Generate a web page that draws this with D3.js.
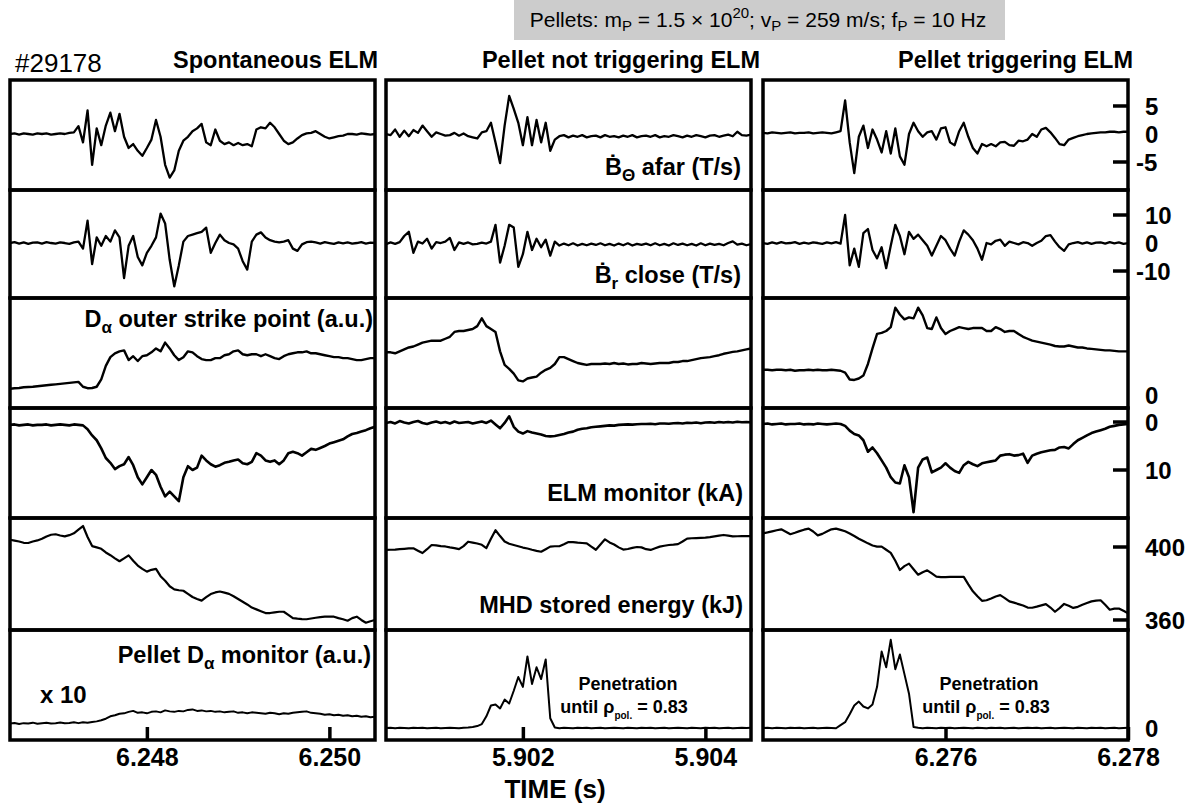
<!DOCTYPE html>
<html>
<head>
<meta charset="utf-8">
<script src="https://cdn.jsdelivr.net/npm/d3@7"></script>
<style>
  body { margin: 0; background: #fff; }
  text { font-family: "Liberation Sans", Arial, Helvetica, sans-serif; fill: #000; }
</style>
</head>
<body>
<div id="chart"></div>
<script>
// time axis (ms) : each column shows 4 ms, sampled every 0.05 ms
var colStart = [6246.5, 5900.5, 6274.0];
var colTicks = [[6248, 6250], [5902, 5904], [6276, 6278]];
var dt = 0.05;
var colTitles = ["Spontaneous ELM", "Pellet not triggering ELM", "Pellet triggering ELM"];
var shot = "#29178";

// right hand axis ticks for each row
var rowTickLabels = [[5, 0, -5], [10, 0, -10], [0], [0, 10], [400, 360], [0]];
var rowTickMarks = [[5, -5], [10, -10], [], [0, 10], [400, 360], []];
// value at bottom / top of each row
var rowDomains = [[-10, 9.64], [-19.64, 18.93], [-1.34, 10], [20, -2.92], [354.5, 415.9], [-1.22, 10]];

// ---- column 1 : spontaneous ELM ----
var c1_bth = [0, 0.1, -0.1, 0.1, 0, -0.1, 0.1, 0, 0.1, -0.1,
  0, 0.1, 0, 0.2, 0.3, 1.4, -1.5, 4.2, -5.5, 1.0,
  -2.0, 1.5, 3.8, 0.5, 3.6, -0.5, -2.5, -1.8, -3.0, -3.9,
  -2.5, -1.0, 2.5, -0.5, -5.5, -7.8, -6.5, -3.0, -1.2, -0.5,
  0.5, 1.0, 1.8, -1.5, -2.0, 0.8, -1.2, -1.8, -1.5, -2.0,
  -1.6, -2.0, -1.8, -2.2, 0.8, 1.2, 1.0, 2.0, 1.2, 0.0,
  -1.2, -1.8, -1.5, -0.8, -0.2, 0.1, 0.2, 0.5, 0.0, -0.5,
  -0.8, -0.6, -0.4, -0.3, 0.0, 0.0, -0.1, 0.1, 0, -0.1,
  0];
var c1_br = [0, 0.3, -0.2, 0.2, -0.3, 0.1, 0.2, -0.2, 0.3, 0,
  -0.2, 0.2, 0, -0.3, 0.2, 0.5, -2, 8.0, -7.5, 2.0,
  -1.0, 2.5, 0.5, 4.5, 2.0, -12.5, -1.0, 2.5, -5.0, -8.0,
  -3.5, -1.0, 2.0, 10.5, 7.0, -6.0, -15.5, -8.0, 0.5, 2.5,
  3.0, 3.5, 4.0, 5.5, -3.5, 0.0, 3.0, 1.0, 0.0, -0.5,
  -2.0, -6.5, -9.5, 0.5, 3.0, 3.8, 2.0, 1.0, 0.5, 0.2,
  0.5, 1.0, -2.0, -2.8, -0.5, 0.3, 0.5, 0.2, -0.2, 0.3,
  0, -0.3, 0.2, -0.1, 0.2, -0.2, 0, 0.3, -0.2, 0.1,
  0];
var c1_da = [0.65, 0.7, 0.72, 0.8, 0.82, 0.85, 0.9, 0.95, 1.0, 1.05,
  1.1, 1.15, 1.2, 1.25, 1.3, 1.35, 0.85, 0.7, 0.72, 0.85,
  1.6, 3.0, 3.9, 4.3, 4.5, 4.6, 3.6, 4.0, 3.5, 4.0,
  4.1, 4.4, 4.8, 4.5, 5.4, 4.8, 4.1, 3.6, 3.9, 4.5,
  4.4, 4.0, 3.7, 3.6, 3.6, 3.8, 3.8, 4.1, 4.2, 4.5,
  4.6, 4.2, 4.1, 4.2, 4.2, 4.0, 4.2, 4.0, 3.8, 3.7,
  4.0, 4.2, 4.3, 4.4, 4.4, 4.5, 4.3, 4.3, 4.2, 4.1,
  4.0, 3.9, 3.9, 3.8, 3.8, 3.7, 3.6, 3.6, 3.7, 3.8,
  3.8];
var c1_elm = [0.6, 0.5, 0.7, 0.6, 0.5, 0.7, 0.6, 0.6, 0.5, 0.7,
  0.6, 0.5, 0.6, 0.7, 0.5, 0.6, 0.7, 1.5, 2.8, 3.8,
  5.5, 7.5, 8.5, 9.8, 9.2, 8.8, 7.3, 9.0, 11.5, 13.0,
  11.5, 10.0, 11.0, 13.5, 15.5, 14.5, 15.5, 16.5, 11.5, 9.2,
  10.0, 9.5, 7.0, 8.0, 8.8, 9.3, 9.0, 8.5, 8.3, 8.0,
  7.8, 8.6, 8.8, 8.3, 6.5, 7.0, 8.0, 8.3, 8.0, 8.8,
  8.0, 6.5, 6.2, 6.5, 7.0, 6.3, 5.6, 5.8, 5.4, 5.0,
  4.5, 4.2, 3.9, 3.6, 3.0, 2.5, 2.3, 2.0, 1.7, 1.3,
  1.0];
var c1_wmhd = [404, 403.5, 403, 402.3, 402.2, 403, 403.6, 404.5, 405.8, 406.7,
  407, 406.3, 405.8, 406.5, 407.5, 409.5, 411.5, 405.5, 400.5, 399.8,
  399, 397, 395.5, 393.8, 392.2, 393.8, 395.4, 392.5, 389.8, 388,
  386.5, 387.5, 388, 384, 381.5, 378.5, 376.8, 376.3, 376, 374.3,
  372.6, 371.5, 370.6, 372.5, 374.2, 375.1, 375.6, 375, 374.3, 373,
  371.5, 370, 368.5, 366.8, 365.8, 364.8, 363.8, 363.8, 364.2, 364.5,
  364.5, 362.8, 361, 360.7, 360.5, 360.4, 360.8, 361.2, 361.6, 361.8,
  361.8, 361.8, 361, 360.4, 359.6, 361, 361.8, 360, 358.5, 359.3,
  360];
var c1_pel = [0.45, 0.52, 0.42, 0.5, 0.47, 0.55, 0.44, 0.5, 0.53, 0.46,
  0.5, 0.56, 0.48, 0.52, 0.58, 0.5, 0.6, 0.55, 0.62, 0.68,
  0.8, 0.95, 1.2, 1.3, 1.45, 1.5, 1.65, 1.75, 1.55, 1.6,
  1.5, 1.65, 1.7, 1.6, 1.8, 1.7, 1.65, 1.75, 1.7, 1.85,
  1.9, 1.75, 1.8, 1.7, 1.75, 1.65, 1.7, 1.6, 1.65, 1.7,
  1.55, 1.6, 1.5, 1.6, 1.55, 1.5, 1.45, 1.55, 1.5, 1.4,
  1.5, 1.45, 1.55, 1.6, 1.65, 1.7, 1.55, 1.5, 1.45, 1.35,
  1.4, 1.3, 1.35, 1.25, 1.3, 1.2, 1.25, 1.15, 1.2, 1.1,
  1.15];

// ---- column 2 : pellet not triggering ELM ----
var c2_bth = [0.0, -0.2, 0.8, -0.5, 0.6, -0.4, 0.7, 0.2, 1.5, 0.5,
  -0.5, 0.3, 0.0, -0.3, -0.2, 0.2, -0.3, 0.1, -0.4, -0.6,
  -0.8, 0.3, 0.5, 2.0, -1.5, -5.2, 1.5, 6.8, 4.5, 2.0,
  -2.0, 3.0, -2.0, 2.5, -1.5, 2.0, -3.0, -1.0, -0.4, -0.2,
  -0.6, -0.3, -0.5, -0.2, -0.6, -0.4, -0.3, -0.6, -0.2, -0.5,
  -0.4, -0.6, -0.3, -0.5, -0.2, -0.6, -0.4, -0.3, -0.5, -0.2,
  -0.6, -0.4, -0.5, -0.2, -0.4, -0.6, -0.3, -0.5, -0.2, -0.4,
  -0.6, -0.3, -0.2, -0.5, -0.3, -0.1, -0.4, 0.4, -0.2, -0.3,
  -0.1];
var c2_br = [-0.4, 0.2, -0.3, 0.3, 2.5, 4.0, -3.5, 0.5, -0.2, 1.5,
  -2.0, 0.3, 0.0, 0.5, 1.8, -2.5, 0.2, -0.3, 0.2, -0.5,
  -0.3, 0.1, -0.2, 0.5, 6.5, -7.0, -1.0, 6.5, 5.5, -8.5,
  -4.0, 4.0, -2.5, 1.5, -1.5, 1.2, -4.5, 0.5, -0.9, -0.2,
  -0.8, -0.1, -0.9, -0.3, -0.8, -0.2, -0.7, -0.1, -0.8, -0.3,
  -0.9, -0.2, -0.8, -0.1, -0.9, -0.3, -0.7, -0.2, -0.8, -0.1,
  -0.8, -0.3, -0.9, -0.1, -0.7, -0.2, -0.8, -0.3, -0.9, -0.1,
  -0.8, -0.2, -0.7, -0.3, -0.8, 0.0, 0.6, -0.6, -0.2, -0.8,
  -0.4];
var c2_da = [4.4, 4.4, 4.3, 4.5, 4.7, 4.9, 5.0, 5.2, 5.4, 5.5,
  5.6, 5.6, 5.6, 5.8, 6.0, 6.5, 6.6, 6.6, 6.7, 6.8,
  7.1, 7.9, 7.1, 6.8, 6.5, 4.5, 3.1, 2.7, 2.2, 1.5,
  1.4, 1.7, 1.8, 1.9, 2.3, 2.6, 2.8, 3.2, 3.9, 3.9,
  3.7, 3.5, 3.3, 3.2, 3.1, 3.2, 3.2, 3.2, 3.25, 3.2,
  3.3, 3.2, 3.25, 3.15, 3.2, 3.2, 3.3, 3.25, 3.2, 3.25,
  3.3, 3.3, 3.3, 3.4, 3.4, 3.5, 3.5, 3.6, 3.7, 3.8,
  3.85, 3.9, 4.0, 4.1, 4.25, 4.35, 4.45, 4.5, 4.6, 4.7,
  4.8];
var c2_elm = [0.2, 0.0, 0.3, -0.2, 0.1, 0.3, 0.0, -0.2, 0.2, 0.4,
  0.1, -0.1, 0.2, 0.0, 0.3, -0.1, 0.2, 0.1, 0.0, 0.3,
  0.1, -0.1, 0.2, -0.3, 0.5, 1.3, 0.2, -1.2, 1.0, 2.0,
  2.4, 1.9, 2.2, 2.4, 2.6, 2.9, 3.0, 2.9, 2.7, 2.5,
  2.2, 2.0, 1.6, 1.4, 1.3, 1.1, 1.0, 0.9, 0.8, 0.7,
  0.75, 0.6, 0.55, 0.5, 0.55, 0.45, 0.4, 0.4, 0.35, 0.45,
  0.3, 0.3, 0.35, 0.25, 0.2, 0.3, 0.15, 0.2, 0.1, 0.25,
  0.1, 0.05, 0.15, 0.0, 0.1, 0.0, 0.1, -0.05, 0.05, 0.0,
  0.05];
var c2_wmhd = [398.4, 398.5, 398.6, 398.8, 399, 399.2, 399.3, 398, 396.7, 398.8,
  401.1, 400.9, 400.5, 400.3, 399.8, 399.4, 398.8, 400.5, 402.9, 402.4,
  401.9, 401.2, 399.4, 404.5, 409.2, 406, 403, 401.8, 401.1, 400.4,
  399.7, 399.2, 398.5, 397.9, 397.4, 398.8, 400.2, 400.4, 400.4, 401.5,
  402.7, 402.7, 402.4, 402.2, 402, 400.2, 398.5, 401.4, 404.2, 402.5,
  401.4, 399.8, 398.6, 398.9, 399.5, 400, 399.8, 398.8, 398.4, 399.3,
  400.2, 400.7, 401.1, 401.3, 401.6, 403, 404.6, 404.8, 404.9, 405,
  405.1, 405.4, 405.8, 406.2, 406.6, 406.2, 405.8, 405.9, 406, 406,
  406];
var c2_pel = [0, 0.03, -0.02, 0.02, 0, -0.03, 0.02, 0, 0.03, -0.02,
  0, 0.02, -0.03, 0, 0.02, 0, -0.02, 0.03, 0.05, 0.1,
  0.2, 0.4, 1.2, 2.3, 2.4, 2.0, 2.9, 2.5, 3.8, 5.2,
  4.2, 7.3, 4.5, 6.2, 5.0, 7.0, 1.0, 0.05, -0.02, 0.03,
  0, -0.03, 0.02, 0, 0.03, -0.02, 0, 0.02, -0.03, 0,
  0.02, 0, -0.02, 0.03, 0, -0.03, 0.02, 0, 0.03, -0.02,
  0, 0.02, -0.03, 0, 0.02, 0, -0.02, 0.03, 0, -0.03,
  0.02, 0, 0.03, -0.02, 0, 0.02, -0.03, 0, 0.02, 0,
  0.02];

// ---- column 3 : pellet triggering ELM ----
var c3_bth = [0.2, 0.1, 0.3, 0.2, 0.1, 0.2, 0.3, 0.1, 0.2, 0.2,
  0.3, 0.1, 0.2, 0.3, 0.2, 0.1, 0.3, 0.5, 6.0, -1.5,
  -7.0, -0.5, 1.5, -2.5, 0.8, -1.0, -3.3, 0.5, -3.5, 1.0,
  -4.0, -5.5, 0.0, 2.0, 0.5, -0.5, 0.3, 0.5, -1.0, 1.0,
  1.2, -1.5, -2.0, 0.5, 2.0, -0.5, -2.5, -3.5, -1.8, -2.2,
  -1.8, -2.2, -1.5, -1.4, -2.0, -2.1, -1.2, -1.3, -1.0, 0.0,
  -0.5, 0.8, 1.1, 0.3, -0.7, -1.8, -2.0, -1.0, -0.7, -0.4,
  -0.2, 0.0, 0.1, 0.2, 0.3, 0.3, 0.4, 0.4, 0.3, 0.4,
  0.4];
var c3_br = [0.0, -0.3, 0.2, -0.2, 0.3, -0.1, 0.0, 0.3, -0.3, 0.1,
  -0.2, 0.2, 0.0, -0.3, 0.2, -0.1, 0.3, -0.2, 10.0, -8.0,
  -2.0, -8.5, 3.5, 5.0, -2.5, -5.5, -1.5, -9.0, -1.0, 6.5,
  2.5, -4.0, 4.0, 1.5, 3.0, 1.0, -1.0, -4.5, -1.0, 2.5,
  1.0, -2.0, -4.5, 0.5, 4.5, 3.0, 1.0, -2.0, -6.0, 0.0,
  -0.5, 0.8, 1.2, -1.0, 0.5, 0.0, -0.5, 0.3, 0.0, -1.0,
  0.0, 0.8, 2.5, 2.8, 0.5, -1.5, -2.8, -0.5, 0.0, 0.3,
  -0.2, 0.2, -0.3, 0.1, 0.2, -0.2, 0.3, -0.1, 0.2, -0.3,
  0.0];
var c3_da = [2.6, 2.6, 2.55, 2.6, 2.6, 2.55, 2.6, 2.5, 2.55, 2.55,
  2.6, 2.55, 2.6, 2.55, 2.55, 2.6, 2.55, 2.5, 2.3, 1.6,
  1.55, 1.7, 2.0, 3.2, 4.8, 6.3, 6.4, 6.6, 7.0, 9.0,
  8.3, 7.8, 8.0, 7.9, 9.0, 8.2, 6.9, 6.8, 8.0, 6.9,
  6.3, 6.6, 6.8, 7.0, 6.9, 6.8, 6.9, 6.9, 6.9, 6.6,
  6.6, 7.0, 6.8, 6.5, 6.6, 6.6, 6.3, 6.0, 5.8, 5.6,
  5.5, 5.4, 5.3, 5.2, 5.05, 5.0, 5.0, 5.1, 5.0, 4.9,
  4.9, 4.8, 4.75, 4.7, 4.65, 4.6, 4.6, 4.55, 4.5, 4.5,
  4.5];
var c3_elm = [0.4, 0.3, 0.5, 0.4, 0.3, 0.5, 0.4, 0.4, 0.3, 0.5,
  0.4, 0.5, 0.3, 0.4, 0.5, 0.4, 0.3, 0.4, 0.8, 1.8,
  2.5, 2.8, 3.8, 6.2, 5.3, 6.5, 8.0, 9.5, 11.5, 12.6,
  12.8, 9.0, 11.5, 18.8, 9.5, 7.8, 7.4, 10.5, 10.0, 9.5,
  8.6, 9.5, 10.2, 10.6, 9.0, 8.3, 8.8, 9.2, 8.6, 8.4,
  8.2, 8.0, 7.0, 6.8, 6.7, 7.0, 6.9, 6.6, 8.5, 7.0,
  6.6, 6.3, 6.1, 5.9, 5.8, 5.3, 5.2, 5.5, 4.6, 3.8,
  3.3, 2.8, 2.3, 2.0, 1.7, 1.4, 1.0, 0.8, 0.6, 0.5,
  0.4];
var c3_wmhd = [407.5, 408, 408.6, 409.2, 409.7, 408.4, 407, 407.8, 408.7, 409.5,
  410.1, 408.5, 406.4, 407.2, 408.5, 409.7, 410.1, 409.4, 408.6, 407.4,
  406, 404.5, 403.3, 402, 400.8, 400.2, 400.2, 398.5, 396.8, 392.5,
  387.4, 389.5, 390.9, 387.8, 384.8, 386.2, 387.2, 385.5, 383.8, 383.5,
  383.5, 383.6, 383.6, 383.7, 383.6, 379.5, 375.7, 373, 370.5, 370.8,
  371.8, 372.9, 373.6, 372, 370.2, 369.5, 368.7, 367.9, 366.8, 366.7,
  367.3, 368, 368.7, 366.8, 364.5, 366.5, 368.8, 367.8, 366.6, 367.2,
  368.3, 369.3, 370.2, 370.6, 370.8, 368.3, 365.6, 366.2, 366.3, 365,
  363.7];
var c3_pel = [0, 0.03, -0.02, 0.02, 0, -0.03, 0.02, 0, 0.03, -0.02,
  0, 0.02, -0.03, 0, 0.02, 0, -0.02, 0.3, 0.6, 1.4,
  2.3, 2.7, 2.2, 2.0, 2.4, 4.2, 7.8, 6.2, 9.0, 6.0,
  7.5, 5.5, 3.5, 0.1, 0.02, -0.02, 0.03, 0, -0.03, 0.02,
  0, 0.02, -0.03, 0, 0.02, 0, -0.02, 0.03, 0, -0.03,
  0.02, 0, 0.03, -0.02, 0, 0.02, -0.03, 0, 0.02, 0,
  0.03, -0.02, 0, 0.02, -0.03, 0, 0.02, 0, -0.02, 0.03,
  0, -0.03, 0.02, 0, 0.03, -0.02, 0, 0.02, -0.03, 0,
  0.02];

var traces = [
  [c1_bth, c1_br, c1_da, c1_elm, c1_wmhd, c1_pel],
  [c2_bth, c2_br, c2_da, c2_elm, c2_wmhd, c2_pel],
  [c3_bth, c3_br, c3_da, c3_elm, c3_wmhd, c3_pel]
];

// ---- layout ----
var svgWidth = 1197, svgHeight = 807;
var colLeft = [10, 386, 763];
var colW = 365;
var rowEdges = [80, 190, 298, 408, 518, 630, 740];
var traceWidth = [2.3, 2.3, 2.4, 2.6, 2.2, 2.0];

var svg = d3.select("#chart")
  .append("svg")
  .attr("width", svgWidth)
  .attr("height", svgHeight);

var defs = svg.append("defs");

// x scales per column (time in ms)
var xScales = colStart.map(function(s, c) {
  return d3.scaleLinear().domain([s, s + 4]).range([colLeft[c], colLeft[c] + colW]);
});
// y scales per row
var yScales = rowDomains.map(function(dom, r) {
  return d3.scaleLinear().domain(dom).range([rowEdges[r + 1], rowEdges[r]]);
});

// traces
traces.forEach(function(col, c) {
  col.forEach(function(vals, r) {
    var id = "clip" + c + "_" + r;
    defs.append("clipPath").attr("id", id)
      .append("rect")
      .attr("x", colLeft[c])
      .attr("y", rowEdges[r])
      .attr("width", colW)
      .attr("height", rowEdges[r + 1] - rowEdges[r]);

    var line = d3.line()
      .x(function(d, i) { return xScales[c](colStart[c] + i * dt); })
      .y(function(d) { return yScales[r](d); });

    svg.append("path")
      .datum(vals)
      .attr("clip-path", "url(#" + id + ")")
      .attr("d", line)
      .attr("fill", "none")
      .attr("stroke", "#000")
      .attr("stroke-width", traceWidth[r])
      .attr("stroke-linejoin", "round");
  });
});

// panel frames
colLeft.forEach(function(x0) {
  for (var r = 0; r < 6; r++) {
    svg.append("rect")
      .attr("x", x0)
      .attr("y", rowEdges[r])
      .attr("width", colW)
      .attr("height", rowEdges[r + 1] - rowEdges[r])
      .attr("fill", "none")
      .attr("stroke", "#000")
      .attr("stroke-width", 3.5);
  }
});

// bottom time axes (ticks point inward)
xScales.forEach(function(x, c) {
  var ax = d3.axisBottom(x)
    .tickValues(colTicks[c])
    .tickSize(-13)
    .tickPadding(8)
    .tickFormat(function(d) { return (d / 1000).toFixed(3); });
  var g = svg.append("g")
    .attr("transform", "translate(0," + rowEdges[6] + ")")
    .call(ax);
  g.select(".domain").remove();
  g.selectAll(".tick line").attr("stroke", "#000").attr("stroke-width", 3.5);
  g.selectAll(".tick text")
    .attr("font-size", 25)
    .attr("font-weight", "bold")
    .attr("font-family", "Liberation Sans, Arial, sans-serif")
    .attr("fill", "#000");
});

// right hand value axes on column 3
var axRight = colLeft[2] + colW;
yScales.forEach(function(y, r) {
  rowTickMarks[r].forEach(function(v) {
    svg.append("line")
      .attr("x1", axRight - 15).attr("x2", axRight)
      .attr("y1", y(v)).attr("y2", y(v))
      .attr("stroke", "#000").attr("stroke-width", 3.5);
  });
  rowTickLabels[r].forEach(function(v) {
    svg.append("text")
      .attr("x", v < 0 ? 1136 : 1145)
      .attr("y", y(v))
      .attr("dy", "0.36em")
      .attr("font-size", 24)
      .attr("font-weight", "bold")
      .text(v);
  });
});

// titles
var titleRight = [378, 760, 1133];
colTitles.forEach(function(t, c) {
  svg.append("text")
    .attr("x", titleRight[c]).attr("y", 68)
    .attr("text-anchor", "end")
    .attr("font-size", 23.5)
    .attr("font-weight", "bold")
    .text(t);
});
svg.append("text")
  .attr("x", 15).attr("y", 72)
  .attr("font-size", 26)
  .text(shot);

// pellet parameter box
svg.append("rect")
  .attr("x", 514).attr("y", 0)
  .attr("width", 491).attr("height", 40)
  .attr("fill", "#cccccc");
var box = svg.append("text")
  .attr("x", 758).attr("y", 27)
  .attr("text-anchor", "middle")
  .attr("font-size", 21);
box.append("tspan").text("Pellets: m");
box.append("tspan").attr("font-size", 15).attr("dy", 4).text("P");
box.append("tspan").attr("dy", -4).text(" = 1.5 \u00d7 10");
box.append("tspan").attr("font-size", 15).attr("dy", -9).text("20");
box.append("tspan").attr("dy", 9).text("; v");
box.append("tspan").attr("font-size", 15).attr("dy", 4).text("P");
box.append("tspan").attr("dy", -4).text(" = 259 m/s; f");
box.append("tspan").attr("font-size", 15).attr("dy", 4).text("P");
box.append("tspan").attr("dy", -4).text(" = 10 Hz");

// signal labels
function label(x, y, parts, size, anchor) {
  var t = svg.append("text")
    .attr("x", x).attr("y", y)
    .attr("text-anchor", anchor || "end")
    .attr("font-size", size || 23.5)
    .attr("font-weight", "bold");
  var shift = 0;
  parts.forEach(function(p) {
    var s = t.append("tspan").text(p.t);
    var target = p.sub ? 6 : 0;
    if (target !== shift) { s.attr("dy", target - shift); shift = target; }
    if (p.size) s.attr("font-size", p.size);
  });
  return t;
}

label(741, 175, [{t: "\u1e02"}, {t: "\u0398", sub: true, size: 17}, {t: " afar (T/s)"}]);
label(741, 283, [{t: "\u1e02"}, {t: "r", sub: true, size: 17}, {t: " close (T/s)"}]);
label(373, 327, [{t: "D"}, {t: "\u03b1", sub: true, size: 17}, {t: " outer strike point (a.u.)"}]);
label(743, 501, [{t: "ELM monitor (kA)"}]);
label(743, 613, [{t: "MHD stored energy (kJ)"}]);
label(371, 663, [{t: "Pellet D"}, {t: "\u03b1", sub: true, size: 17}, {t: " monitor (a.u.)"}]);
label(40, 703, [{t: "x 10"}], 24, "start");

[[628, 624], [989, 986]].forEach(function(p) {
  label(p[0], 690, [{t: "Penetration"}], 18, "middle");
  label(p[1], 713, [{t: "until \u03c1"}, {t: "pol.", sub: true, size: 10}, {t: " = 0.83"}], 18, "middle");
});

// x axis title
svg.append("text")
  .attr("x", 555).attr("y", 798)
  .attr("text-anchor", "middle")
  .attr("font-size", 26)
  .attr("font-weight", "bold")
  .text("TIME (s)");
</script>
</body>
</html>
